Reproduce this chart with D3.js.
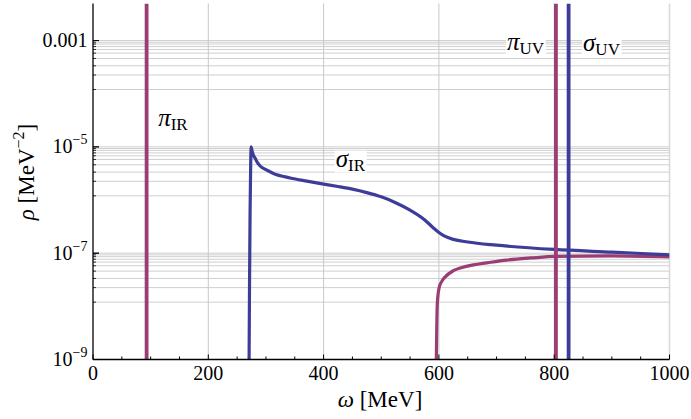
<!DOCTYPE html>
<html>
<head>
<meta charset="utf-8">
<script src="https://cdnjs.cloudflare.com/ajax/libs/d3/7.8.5/d3.min.js"></script>
<style>
  body { margin: 0; background: #fff; }
  text { font-family: "Liberation Serif", "Times New Roman", serif; fill: #000; }
</style>
</head>
<body>
<div id="chart"></div>
<script>
// axis ticks
var xTicks = [0, 200, 400, 600, 800, 1000];
var xMinorTicks = d3.range(50, 1000, 50).filter(function(d) { return d % 200 !== 0; });
var yTickExps = [-9, -7, -5, -3];
var yTickLabels = ["10|−9", "10|−7", "10|−5", "0.001"];
// horizontal grid lines sit below each labelled decade (factors)
var gridFactors = [1, 0.93, 0.86, 0.77, 0.68, 0.58, 0.46, 0.335, 0.225, 0.12];

// sigma IR continuum: omega [MeV], log10(rho)
var sigmaW   = [270.6, 271.5, 272.5, 273.5, 274.2, 276, 278, 281, 285, 290, 300, 313, 342, 371, 400, 425, 450, 475, 500, 525, 550, 575, 590, 600, 610, 625, 650, 700, 800, 900, 1000];
var sigmaRho = [-9.3, -7.6, -6.2, -5.35, -5.0, -5.08, -5.15, -5.21, -5.29, -5.36, -5.43, -5.50, -5.585, -5.645, -5.70, -5.745, -5.795, -5.86, -5.94, -6.05, -6.19, -6.37, -6.52, -6.61, -6.68, -6.74, -6.79, -6.85, -6.93, -6.98, -7.03];

// pi continuum
var piW   = [595.2, 596, 597.3, 600.2, 605, 610.6, 625, 640, 660, 690, 717.6, 760, 803, 900, 1000];
var piRho = [-9.3, -8.6, -7.94, -7.66, -7.53, -7.45, -7.33, -7.27, -7.22, -7.17, -7.13, -7.09, -7.06, -7.05, -7.07];

// delta-like poles
var poleNames = ["piIR", "piUV", "sigmaUV"];
var poleW     = [93, 803, 825];
var poleColor = ["pink", "pink", "blue"];

// text labels: greek, subscript, omega position, log10 rho of baseline
var labelGreek = ["π", "σ", "π", "σ"];
var labelSub   = ["IR", "IR", "UV", "UV"];
var labelW     = [113, 421, 718, 850];
var labelRho   = [-4.61, -5.37, -3.18, -3.2];

var colors = { blue: "#3d3d99", pink: "#993d74" };

var W = 691, H = 419;
var margin = { top: 3.4, right: 21.5, bottom: 59.5, left: 93 };
var width = W - margin.left - margin.right;
var height = H - margin.top - margin.bottom;

var svg = d3.select("#chart").append("svg")
    .attr("width", W)
    .attr("height", H);

var g = svg.append("g")
    .attr("transform", "translate(" + margin.left + "," + margin.top + ")");

var x = d3.scaleLinear().domain([0, 1000]).range([0, width]);
var y = d3.scaleLog().domain([1e-9, 0.005]).range([height, 0]);

g.append("clipPath").attr("id", "clip")
    .append("rect").attr("width", width).attr("height", height);

// grid values
var gridVals = [];
var gridMajor = [];
yTickExps.forEach(function(e) {
    if (e === -9) return;
    gridFactors.forEach(function(f, i) {
        gridVals.push(f * Math.pow(10, e));
        gridMajor.push(i === 0);
    });
});

// horizontal grid
g.selectAll(".hgrid").data(gridVals).enter().append("line")
    .attr("x1", 0).attr("x2", width)
    .attr("y1", d => y(d)).attr("y2", d => y(d))
    .attr("stroke", "#cfcfcf").attr("stroke-width", 1);

// vertical grid
g.selectAll(".vgrid").data(xTicks.slice(1)).enter().append("line")
    .attr("x1", d => x(d)).attr("x2", d => x(d))
    .attr("y1", 0).attr("y2", height)
    .attr("stroke", d => d === 1000 ? "#d8d8d8" : "#c8c8c8")
    .attr("stroke-width", d => d === 1000 ? 1.5 : 1);

// curves
var line = d3.line()
    .x(d => x(d[0]))
    .y(d => y(Math.pow(10, d[1])))
    .curve(d3.curveMonotoneX);

var plot = g.append("g").attr("clip-path", "url(#clip)");

plot.append("path")
    .datum(piW.map((w, i) => [w, piRho[i]]))
    .attr("d", line)
    .attr("fill", "none")
    .attr("stroke", colors.pink)
    .attr("stroke-width", 3.2);

plot.append("path")
    .datum(sigmaW.map((w, i) => [w, sigmaRho[i]]))
    .attr("d", line)
    .attr("fill", "none")
    .attr("stroke", colors.blue)
    .attr("stroke-width", 3.2);

plot.selectAll(".pole").data(poleW).enter().append("line")
    .attr("x1", d => x(d)).attr("x2", d => x(d))
    .attr("y1", 0).attr("y2", height)
    .attr("stroke", (d, i) => colors[poleColor[i]])
    .attr("stroke-width", 3.8);

// axes
g.append("line").attr("x1", 0).attr("x2", width).attr("y1", height).attr("y2", height)
    .attr("stroke", "#000").attr("stroke-width", 1.3);
g.append("line").attr("x1", 0).attr("x2", 0).attr("y1", 0).attr("y2", height)
    .attr("stroke", "#000").attr("stroke-width", 1.3);

// x ticks
g.selectAll(".xmaj").data(xTicks).enter().append("line")
    .attr("x1", d => x(d)).attr("x2", d => x(d))
    .attr("y1", height).attr("y2", height - 5)
    .attr("stroke", "#000");
g.selectAll(".xmin").data(xMinorTicks).enter().append("line")
    .attr("x1", d => x(d)).attr("x2", d => x(d))
    .attr("y1", height).attr("y2", height - 3)
    .attr("stroke", "#000");
g.selectAll(".xlab").data(xTicks).enter().append("text")
    .attr("x", d => x(d)).attr("y", height + 20.5)
    .attr("text-anchor", "middle")
    .style("font-size", "20px")
    .text(d => d);

// y ticks
g.selectAll(".ymin").data(gridVals).enter().append("line")
    .attr("x1", 0).attr("x2", (d, i) => gridMajor[i] ? 6 : 3)
    .attr("y1", d => y(d)).attr("y2", d => y(d))
    .attr("stroke", "#000").attr("stroke-width", 0.8);
g.selectAll(".ymaj").data(yTickExps).enter().append("line")
    .attr("x1", 0).attr("x2", 6)
    .attr("y1", d => y(Math.pow(10, d))).attr("y2", d => y(Math.pow(10, d)))
    .attr("stroke", "#000");

yTickExps.forEach(function(e, i) {
    var parts = yTickLabels[i].split("|");
    var t = g.append("text")
        .attr("x", -5.5).attr("y", y(Math.pow(10, e)) + 6.5)
        .attr("text-anchor", "end")
        .style("font-size", "20px");
    t.append("tspan").text(parts[0]);
    if (parts[1]) {
        t.append("tspan").attr("dy", -9).style("font-size", "14px").text(parts[1]);
    }
});

// axis titles
var xt = svg.append("text")
    .attr("x", 380).attr("y", 407)
    .attr("text-anchor", "middle")
    .style("font-size", "23px");
xt.append("tspan").style("font-style", "italic").text("ω");
xt.append("tspan").text(" [MeV]");

var yt = svg.append("text")
    .attr("transform", "translate(34,172) rotate(-90)")
    .attr("text-anchor", "middle")
    .style("font-size", "23px");
yt.append("tspan").style("font-style", "italic").text("ρ");
yt.append("tspan").text(" [MeV");
yt.append("tspan").attr("dy", -10).style("font-size", "16px").text("−2");
yt.append("tspan").attr("dy", 10).text("]");

// curve labels with white backgrounds
labelGreek.forEach(function(gr, i) {
    var lg = g.append("g");
    var bg = lg.append("rect").attr("fill", "#fff");
    var t = lg.append("text")
        .attr("x", x(labelW[i])).attr("y", y(Math.pow(10, labelRho[i])))
        .style("font-size", "25px");
    t.append("tspan").style("font-style", "italic").text(gr);
    t.append("tspan").attr("dy", 4).style("font-size", "17px").text(labelSub[i]);
    var bb = t.node().getBBox();
    bg.attr("x", bb.x - 1).attr("y", bb.y + 6)
      .attr("width", bb.width + 2).attr("height", bb.height - 8);
});
</script>
</body>
</html>
